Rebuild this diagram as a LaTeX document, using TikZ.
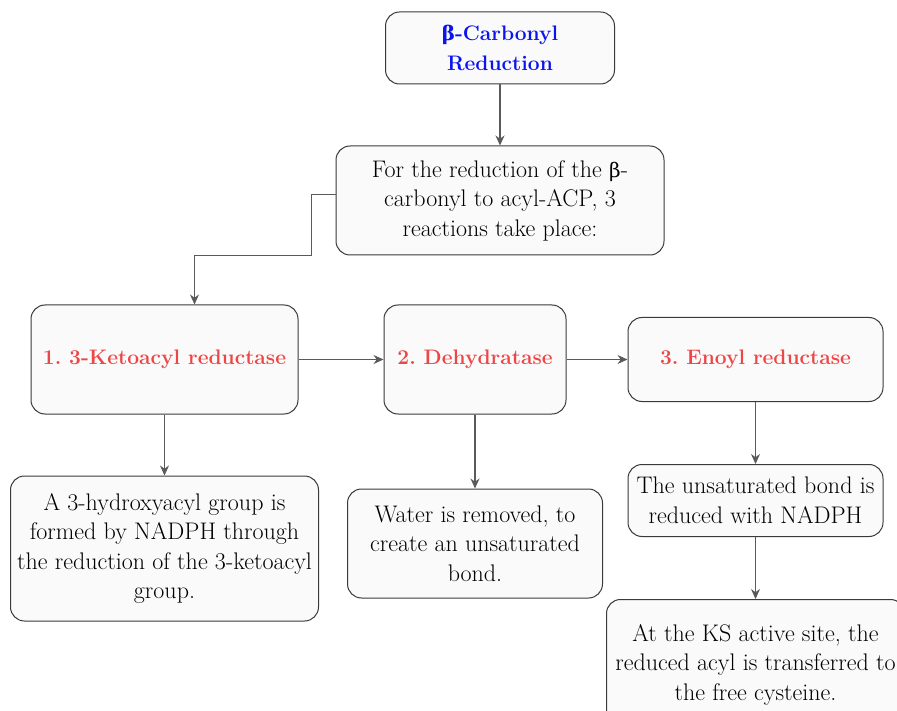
\documentclass[tikz,border=0pt]{standalone}
\usepackage{fontspec}
\newfontfamily\greekfont{DejaVu Serif}
\usepackage{tikz}
\usetikzlibrary{
  arrows.meta,
  positioning
}
\frenchspacing
\definecolor{titleblue}{HTML}{0A14EE}
\definecolor{stepred}{HTML}{EE4646}
\definecolor{boxline}{HTML}{3A3A3A}
\definecolor{boxfill}{HTML}{FAFAFA}
\definecolor{arrowgray}{HTML}{5A5A5A}
\newcommand{\gbeta}{{\greekfont\fontsize{20}{29}\selectfont β}}
\tikzstyle{basebox} = [
  rectangle, rounded corners=14pt, draw=boxline, line width=1pt,
  fill=boxfill, align=center, inner sep=0pt,
  font=\fontsize{24}{29.5}\selectfont
]
\tikzstyle{titlebox} = [basebox, text=titleblue, font=\fontsize{21}{29.5}\selectfont\bfseries]
\tikzstyle{stepbox} = [basebox, text=stepred, font=\fontsize{21}{29.5}\selectfont\bfseries]
\tikzstyle{infobox} = [basebox, text=black]
\tikzstyle{arrowstyle} = [-{Stealth[length=10pt,width=9pt]}, draw=arrowgray, line width=1.2pt]

\begin{document}
\begin{tikzpicture}
\useasboundingbox (0,0) rectangle (897pt,-711pt);

% --- Title and overview ---
\node[titlebox, minimum width=229pt, minimum height=72pt] (title) at (500pt,-48pt) {\gbeta-Carbonyl\\Reduction};
\node[infobox, minimum width=328pt, minimum height=109pt, below=61pt of title] (intro) {For the reduction of the \gbeta-\\carbonyl to acyl-ACP, 3\\reactions take place:};

% --- The three reactions ---
\node[stepbox, minimum width=267pt, minimum height=109pt, below left=49pt and 37pt of intro] (ketoacyl) {1. 3-Ketoacyl reductase};
\node[stepbox, minimum width=182pt, minimum height=109pt, right=85pt of ketoacyl] (dehydratase) {2. Dehydratase};
\node[stepbox, minimum width=255pt, minimum height=84pt, right=61pt of dehydratase] (enoyl) {3. Enoyl reductase};

% --- Descriptions ---
\node[infobox, minimum width=308pt, minimum height=145pt, below=61pt of ketoacyl] (hydroxy) {A 3-hydroxyacyl group is\\formed by NADPH through\\the reduction of the 3-ketoacyl\\group.};
\node[infobox, minimum width=255pt, minimum height=109pt, below=74pt of dehydratase] (water) {Water is removed, to\\create an unsaturated\\bond.};
\node[infobox, minimum width=255pt, minimum height=72pt, below=62pt of enoyl] (unsat) {The unsaturated bond is\\reduced with NADPH};
\node[infobox, minimum width=298pt, minimum height=130pt, below=62pt of unsat] (transfer) {At the KS active site, the\\reduced acyl is transferred to\\the free cysteine.};

% --- Arrows ---
\draw[arrowstyle] (title) -- (intro);
\draw[arrowstyle] ([yshift=6pt]intro.west) -- ++(-24pt,0) |- ([xshift=30pt]ketoacyl.north |- intro.south) -- ([xshift=30pt]ketoacyl.north);

\draw[arrowstyle] (ketoacyl) -- (dehydratase);
\draw[arrowstyle] (dehydratase) -- (enoyl);

\draw[arrowstyle] (ketoacyl) -- (hydroxy);
\draw[arrowstyle] (dehydratase) -- (water);
\draw[arrowstyle] (enoyl) -- (unsat);
\draw[arrowstyle] (unsat) -- (transfer);

\end{tikzpicture}
\end{document}
